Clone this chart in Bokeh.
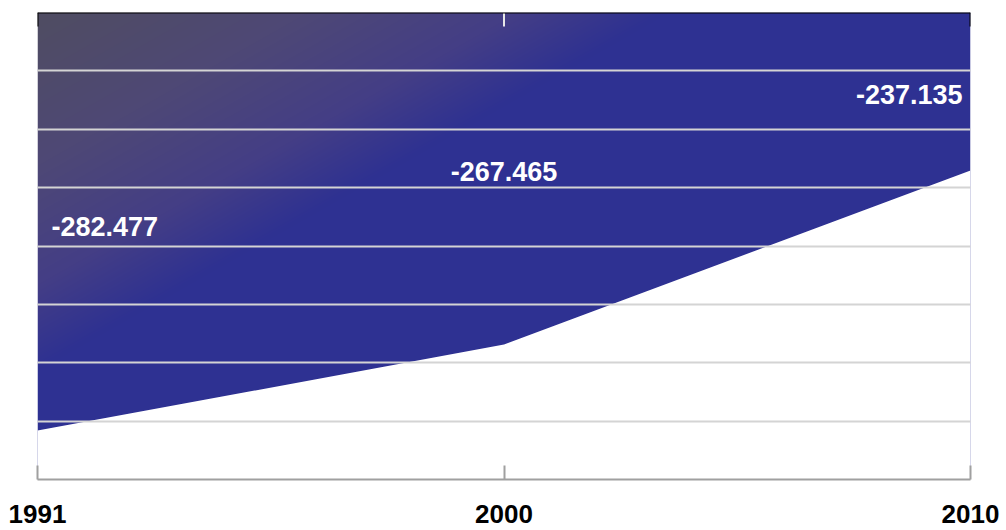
import numpy as np
from bokeh.plotting import figure
from bokeh.models import Range1d, FixedTicker, Span
from bokeh.core.properties import value
from bokeh.embed import file_html
from bokeh.resources import INLINE

# ---- data ----
years = ["1991", "2000", "2010"]
values = [-282.477, -267.465, -237.135]
labels = ["-282.477", "-267.465", "-237.135"]

xs = list(range(len(years)))
y_min, y_max = -291.0, -209.6

W, H = 1006, 530
L, R, T, B = 37, 36, 12, 51

p = figure(width=W, height=H, output_backend="svg", toolbar_location=None,
           x_range=Range1d(xs[0], xs[-1]), y_range=Range1d(y_min, y_max),
           x_axis_location="below", y_axis_location=None,
           min_border_left=L, min_border_right=R, min_border_top=T, min_border_bottom=B,
           background_fill_color="white", border_fill_color="white")
p.outline_line_color = None
p.xgrid.visible = False

# ---- gradient background (pixel image) ----
fw, fh = W - L - R, H - T - B
ii, jj = np.meshgrid(np.arange(fw), np.arange(fh))  # jj from top
t = np.clip(ii / 600.0 + jj / 340.0, 0, 1.05)
stops_t = [0.0, 0.45, 0.8, 1.05]
stops_c = [(80, 77, 98), (78, 72, 118), (68, 62, 134), (46, 49, 146)]
r = np.interp(t, stops_t, [c[0] for c in stops_c])
g = np.interp(t, stops_t, [c[1] for c in stops_c])
b = np.interp(t, stops_t, [c[2] for c in stops_c])
img = np.zeros((fh, fw), dtype=np.uint32)
view = img.view(dtype=np.uint8).reshape((fh, fw, 4))
view[:, :, 0] = r.astype(np.uint8)
view[:, :, 1] = g.astype(np.uint8)
view[:, :, 2] = b.astype(np.uint8)
view[:, :, 3] = 255
img = img[::-1]
p.image_rgba(image=[img], x=xs[0], y=y_min, dw=xs[-1] - xs[0], dh=y_max - y_min)

# ---- white area below the series line ----
p.varea(x=xs, y1=[y_min] * len(xs), y2=values, fill_color="white")

# ---- grid ----
p.ygrid.ticker = FixedTicker(ticks=list(np.linspace(y_min, y_max, 9)[1:-1]))
p.ygrid.grid_line_color = "#d4d4d4"
p.ygrid.grid_line_width = 2
p.ygrid.level = "guide"

# ---- value labels ----
x_offsets = [14, 0, -8]
y_offsets = [-204, -173, -76]
aligns = ["left", "center", "right"]
for i in range(len(xs)):
    p.text(x=[xs[i]], y=[values[i]], text=[labels[i]], x_offset=x_offsets[i], y_offset=y_offsets[i],
           text_align=aligns[i], text_baseline="middle", text_color="white",
           text_font=value("Liberation Sans"), text_font_style="bold", text_font_size="27px")

# ---- bottom axis ----
ax = p.xaxis[0]
ax.ticker = FixedTicker(ticks=xs)
ax.major_label_overrides = {x: y for x, y in zip(xs, years)}
ax.axis_line_color = "#a0a0a0"
ax.axis_line_width = 2
ax.major_tick_line_color = "#a0a0a0"
ax.major_tick_line_width = 2
ax.major_tick_in = 14
ax.major_tick_out = 0
ax.minor_tick_line_color = None
ax.major_label_standoff = 25
ax.major_label_text_font = "Liberation Sans"
ax.major_label_text_font_style = "bold"
ax.major_label_text_font_size = "26px"
ax.major_label_text_color = "black"

# ---- top border with inner ticks ----
p.add_layout(Span(location=y_max, dimension="width", line_color="black", line_width=2))
p.ray(x=xs, y=[y_max] * len(xs), length=14, length_units="screen", angle=-np.pi / 2,
      line_color=["black", "#e8e8e8", "black"], line_width=2)

open("out.html", "w").write(file_html(p, INLINE))
